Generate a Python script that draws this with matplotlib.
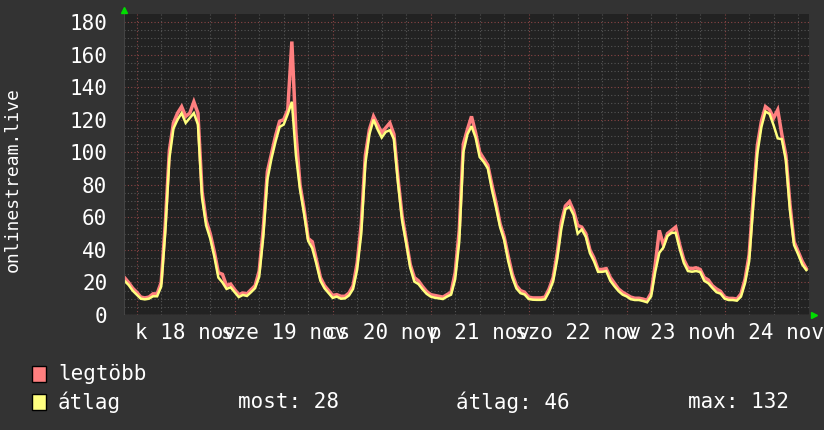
import numpy as np
import matplotlib
matplotlib.use("Agg")
from matplotlib import pyplot as plt
from matplotlib.patches import Rectangle

plt.rcParams['font.family'] = ['DejaVu Sans Mono']

# órák 18 nov 00:00-tól (óránként), -3 ... 164
hours = list(range(-3, 165))

atlag = [
    21, 18.5, 15,
    # 18 nov
    12.5, 10, 9.6, 10, 11.5, 11.5, 17.5, 51, 96, 114.5, 120, 124, 118, 121, 124, 117, 72, 55, 47, 36, 23, 20, 16, 17,
    # 19 nov
    14, 11, 12.3, 11.7, 14, 16.5, 23.5, 48, 83, 96, 106.5, 115.5, 117, 123.5, 131, 98, 77, 62, 45.5, 41, 31.5, 21, 16.4, 13.5,
    # 20 nov
    10.5, 11.3, 10, 10.2, 12, 16, 28, 50, 93, 111, 120, 114, 109, 112.5, 113.5, 108, 81, 58, 44, 29, 20.5, 19, 15.8, 13,
    # 21 nov
    11.3, 10.6, 10.2, 9.8, 11.3, 12.5, 22, 45, 100, 111, 116, 109, 97, 94, 90, 77, 66, 54, 46, 33, 23, 16.3, 13.4, 12.6,
    # 22 nov
    9.8, 9.4, 9.3, 9.3, 9.6, 14.3, 20.7, 34.5, 53, 64.9, 66.5, 61.5, 50, 52.5, 48, 38, 33, 26.5, 26.5, 27, 21, 17.7, 14.7, 12.5,
    # 23 nov
    11.4, 9.7, 9.2, 9.2, 8.6, 7.8, 11.5, 26.5, 38.2, 41.5, 48.5, 50.5, 50.5, 40.5, 32, 27, 26.6, 27, 26.4, 21, 19.5, 16.6, 14, 13.1,
    # 24 nov
    10, 9.2, 9.2, 8.8, 11.3, 19.7, 33, 67, 99, 115.5, 125, 123.5, 116.5, 108.5, 108, 95, 64, 43, 37.3, 31, 27.6,
]

legtobb = [
    23, 20, 16.5,
    14, 11, 10.5, 11, 13, 13, 20, 56, 101, 118, 124, 128, 122, 124, 131, 124, 76, 58, 50, 39, 26, 25, 18, 19,
    15.5, 12.5, 13.5, 13, 15.5, 18, 27, 53, 88, 99, 110, 119, 120, 126, 168, 112, 80, 65, 47, 45, 34, 23, 18, 15,
    12, 12.5, 11.5, 11.5, 13.5, 18, 32, 56, 98, 114, 122, 117, 112, 115, 118, 111, 84, 61, 46, 31, 23, 21, 17.5, 14.5,
    12.5, 12, 11.5, 11, 12.5, 14, 26, 52, 105, 114, 122, 112, 100, 96, 92, 80, 69, 56, 48, 36, 25, 18, 15, 14,
    11, 10.5, 10.5, 10.5, 11, 16, 23, 38, 57, 67, 69.6, 64, 55, 54, 50, 40, 35, 28, 28, 28.5, 23, 19.5, 16, 14,
    12.5, 11, 10.3, 10.3, 9.8, 9, 13.5, 31, 52, 43, 50, 52, 54, 43, 34, 29, 28.5, 29, 28, 23, 21.5, 18, 16, 14.5,
    11, 10.2, 10.2, 9.8, 13, 22, 37, 72, 104, 119, 128, 126, 121, 126, 111, 98, 68, 45, 39, 33, 28.5,
]

nap_cimkek = ["k 18 nov", "sze 19 nov", "cs 20 nov", "p 21 nov",
              "szo 22 nov", "v 23 nov", "h 24 nov"]
nap_delek = [12, 36, 60, 84, 108, 132, 156]

bg = '#333333'
plot_bg = '#222222'
piros = '#ff7f7f'
sarga = '#ffff7f'

fig = plt.figure(figsize=(8.24, 4.30), dpi=100, facecolor=bg)
ax = fig.add_axes([124/824, 1 - 315/430, 685/824, 301/430])
ax.set_facecolor(plot_bg)

ax.set_xlim(-3.11, 164.66)
ax.set_ylim(0, 184.9)

# racsvonalak
ax.set_xticks(np.arange(0, 165, 24))
ax.set_xticks(np.arange(0, 165, 6), minor=True)
ax.set_yticks(np.arange(0, 181, 20))
ax.set_yticks(np.arange(0, 185, 5), minor=True)
ax.grid(which='minor', color='#555555', linestyle=(0, (1, 2)), linewidth=0.8)
ax.grid(which='major', color='#8a4545', linestyle=(0, (1, 2)), linewidth=0.8)
ax.set_axisbelow(True)

ax.plot(hours, legtobb, color=piros, linewidth=2.5, solid_joinstyle='miter')
ax.plot(hours, atlag, color=sarga, linewidth=1.8, solid_joinstyle='miter')

ax.set_xticklabels([])
ax.tick_params(axis='x', which='both', length=0)
ax.tick_params(axis='y', which='both', length=0, colors='white', labelsize=15, pad=12)

for x, c in zip(nap_delek, nap_cimkek):
    ax.text(x, -0.025, c, transform=ax.get_xaxis_transform(), ha='center', va='top',
            color='white', fontsize=15)

for s in ax.spines.values():
    s.set_visible(False)
ax.axvline(-3.11, color='#444444', linewidth=1.5)
ax.axhline(0, color='#555555', linewidth=1)

# nyilak
ax.plot([0], [1.013], marker='^', color='#00dd00', markersize=5, transform=ax.transAxes, clip_on=False)
ax.plot([1.007], [0], marker='>', color='#00dd00', markersize=5, transform=ax.transAxes, clip_on=False)

fig.text(13/824, 1 - 180/430, 'onlinestream.live', rotation=90, ha='center', va='center',
         color='white', fontsize=13)

# jelmagyarazat
for y, col, lab in [(374, piros, 'legtöbb'), (402, sarga, 'átlag')]:
    fig.patches.append(Rectangle((32/824, 1 - (y + 8)/430), 14/824, 16/430,
                                 transform=fig.transFigure, facecolor=col,
                                 edgecolor='black', linewidth=1))
    fig.text(58/824, 1 - y/430, lab, color='white', fontsize=15, va='center')

fig.text(238/824, 1 - 402/430, 'most: 28', color='white', fontsize=15, va='center')
fig.text(456/824, 1 - 402/430, 'átlag: 46', color='white', fontsize=15, va='center')
fig.text(688/824, 1 - 402/430, 'max: 132', color='white', fontsize=15, va='center')

fig.savefig('out.png', dpi=100, facecolor=bg)
